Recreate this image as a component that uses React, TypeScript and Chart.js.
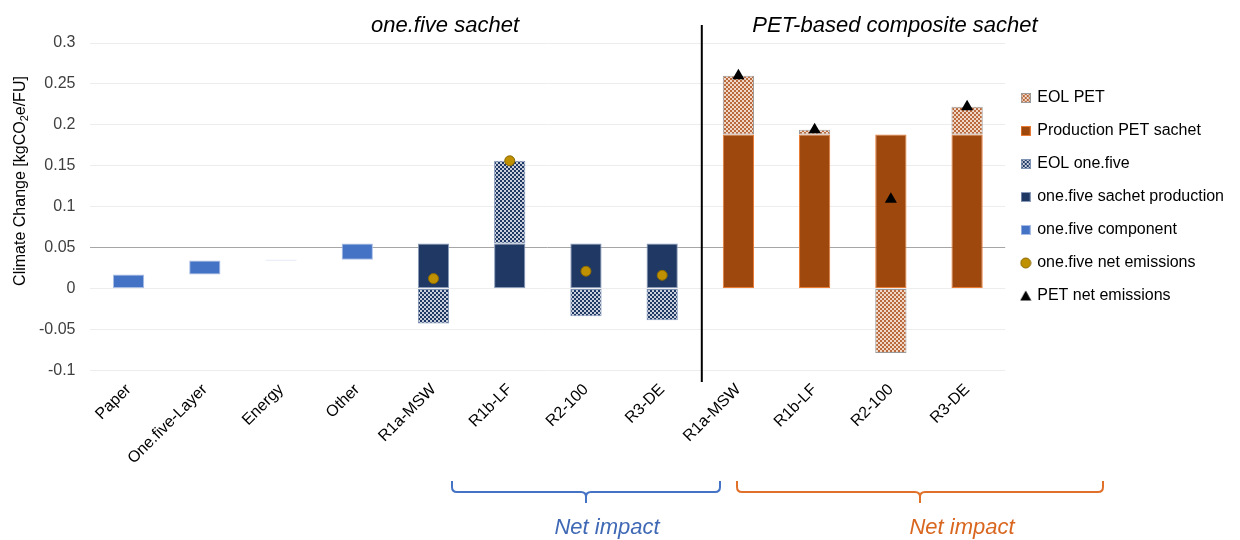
import React, { useEffect, useRef } from 'react';
import { Chart, registerables } from 'chart.js';

Chart.register(...registerables);

// ---------------- data ----------------
const categories = [
  'Paper', 'One.five-Layer', 'Energy', 'Other',
  'R1a-MSW', 'R1b-LF', 'R2-100', 'R3-DE',
  'R1a-MSW', 'R1b-LF', 'R2-100', 'R3-DE',
];

const componentRanges = [
  [0, 0.017], [0.017, 0.034], [0.034, 0.035], [0.035, 0.055],
  null, null, null, null, null, null, null, null,
];
const onefiveProduction = [
  null, null, null, null,
  [0, 0.055], [0, 0.055], [0, 0.055], [0, 0.055],
  null, null, null, null,
];
const onefiveEOL = [
  null, null, null, null,
  [0, -0.043], [0.055, 0.156], [0, -0.034], [0, -0.039],
  null, null, null, null,
];
const onefiveNet = [null, null, null, null, 0.012, 0.156, 0.021, 0.016, null, null, null, null];

const petProduction = [
  null, null, null, null, null, null, null, null,
  [0, 0.188], [0, 0.188], [0, 0.188], [0, 0.188],
];
const petEOL = [
  null, null, null, null, null, null, null, null,
  [0.188, 0.26], [0.188, 0.194], [0, -0.079], [0.188, 0.222],
];
const petNet = [null, null, null, null, null, null, null, null, 0.26, 0.194, 0.109, 0.222];

const yTicks = [-0.1, -0.05, 0, 0.05, 0.1, 0.15, 0.2, 0.25, 0.3];
const axisLine = 0.05;

const seriesNames = [
  'EOL PET',
  'Production PET sachet',
  'EOL one.five',
  'one.five sachet production',
  'one.five component',
  'one.five net emissions',
  'PET net emissions',
];
const groupTitles = ['one.five sachet', 'PET-based composite sachet'];
const braceLabel = 'Net impact';
const yTitleParts = ['Climate Change [kgCO', '2', 'e/FU]'];

const FONT = '"Liberation Sans", Arial, sans-serif';

// ---------------- helpers ----------------
function makeChecker(fg: string, bg: string): CanvasPattern {
  const c = document.createElement('canvas');
  c.width = 4;
  c.height = 4;
  const g = c.getContext('2d')!;
  g.fillStyle = bg;
  g.fillRect(0, 0, 4, 4);
  g.fillStyle = fg;
  g.fillRect(0, 0, 2, 2);
  g.fillRect(2, 2, 2, 2);
  return g.createPattern(c, 'repeat')!;
}

function boxSwatch(fill: string | CanvasPattern, border: string): HTMLCanvasElement {
  const c = document.createElement('canvas');
  c.width = 10;
  c.height = 10;
  const g = c.getContext('2d')!;
  g.fillStyle = fill as any;
  g.fillRect(0, 0, 10, 10);
  g.strokeStyle = border;
  g.lineWidth = 1;
  g.strokeRect(0.5, 0.5, 9, 9);
  return c;
}

function circleSwatch(fill: string, border: string): HTMLCanvasElement {
  const c = document.createElement('canvas');
  c.width = 12;
  c.height = 12;
  const g = c.getContext('2d')!;
  g.beginPath();
  g.arc(6, 6, 5, 0, Math.PI * 2);
  g.fillStyle = fill;
  g.fill();
  g.strokeStyle = border;
  g.lineWidth = 1;
  g.stroke();
  return c;
}

function triangleSwatch(fill: string): HTMLCanvasElement {
  const c = document.createElement('canvas');
  c.width = 12;
  c.height = 12;
  const g = c.getContext('2d')!;
  g.beginPath();
  g.moveTo(6, 0.5);
  g.lineTo(11.5, 10.5);
  g.lineTo(0.5, 10.5);
  g.closePath();
  g.fillStyle = fill;
  g.fill();
  return c;
}

function drawBrace(ctx: CanvasRenderingContext2D, left: number, right: number, tip: number, top: number, mid: number, bottom: number, color: string) {
  const r = 5;
  ctx.beginPath();
  ctx.moveTo(left, top);
  ctx.lineTo(left, mid - r);
  ctx.quadraticCurveTo(left, mid, left + r, mid);
  ctx.lineTo(tip - r, mid);
  ctx.quadraticCurveTo(tip, mid, tip, mid + r);
  ctx.lineTo(tip, bottom);
  ctx.moveTo(tip, mid + r);
  ctx.quadraticCurveTo(tip, mid, tip + r, mid);
  ctx.lineTo(right - r, mid);
  ctx.quadraticCurveTo(right, mid, right, mid - r);
  ctx.lineTo(right, top);
  ctx.strokeStyle = color;
  ctx.lineWidth = 2;
  ctx.stroke();
}

const annotationPlugin = {
  id: 'annotations',
  afterDraw(chart: any) {
    const { ctx, scales } = chart;
    const x = scales.x;
    ctx.save();

    // group titles
    ctx.font = `italic 22px ${FONT}`;
    ctx.fillStyle = '#000';
    ctx.textAlign = 'center';
    ctx.textBaseline = 'alphabetic';
    ctx.fillText(groupTitles[0], 445, 32);
    ctx.fillText(groupTitles[1], 895, 32);

    // divider
    const divX = (x.getPixelForValue(7) + x.getPixelForValue(8)) / 2 + 1.5;
    ctx.beginPath();
    ctx.moveTo(divX, 25);
    ctx.lineTo(divX, 382);
    ctx.strokeStyle = '#000';
    ctx.lineWidth = 2;
    ctx.stroke();

    // y-axis title (with subscript)
    ctx.save();
    ctx.translate(21, 181);
    ctx.rotate(-Math.PI / 2);
    ctx.fillStyle = '#000';
    ctx.textAlign = 'left';
    ctx.textBaseline = 'middle';
    ctx.font = `16px ${FONT}`;
    const w1 = ctx.measureText(yTitleParts[0]).width;
    const w3 = ctx.measureText(yTitleParts[2]).width;
    ctx.font = `11px ${FONT}`;
    const w2 = ctx.measureText(yTitleParts[1]).width;
    const total = w1 + w2 + w3;
    let cx = -total / 2;
    ctx.font = `16px ${FONT}`;
    ctx.fillText(yTitleParts[0], cx, 0);
    cx += w1;
    ctx.font = `11px ${FONT}`;
    ctx.fillText(yTitleParts[1], cx, 4);
    cx += w2;
    ctx.font = `16px ${FONT}`;
    ctx.fillText(yTitleParts[2], cx, 0);
    ctx.restore();

    // braces
    drawBrace(ctx, 452, 720, 586, 481, 492, 503, '#4472C4');
    drawBrace(ctx, 737, 1103, 920, 481, 492, 503, '#E0702A');

    ctx.font = `italic 22px ${FONT}`;
    ctx.textAlign = 'center';
    ctx.textBaseline = 'alphabetic';
    ctx.fillStyle = '#3F68B5';
    ctx.fillText(braceLabel, 607, 534);
    ctx.fillStyle = '#D9661F';
    ctx.fillText(braceLabel, 962, 534);

    ctx.restore();
  },
};

export default function App() {
  const canvasRef = useRef<HTMLCanvasElement | null>(null);

  useEffect(() => {
    document.body.style.margin = '0';
    const canvas = canvasRef.current;
    if (!canvas) return;

    const patPet = makeChecker('#BA6A3C', '#EFD8C8');
    const patOne = makeChecker('#1F3864', '#C9D0DC');

    const colors = {
      eolPet: { fill: patPet, border: '#9A9A9A' },
      prodPet: { fill: '#9E480E', border: '#E97B35' },
      eolOne: { fill: patOne, border: '#7F93B5' },
      prodOne: { fill: '#1F3864', border: '#8A9BBA' },
      comp: { fill: '#4472C4', border: '#A7BDE6' },
      netOne: { fill: '#BF9000', border: '#8C6A00' },
      netPet: { fill: '#000000' },
    };

    const swatches = [
      boxSwatch(colors.eolPet.fill, colors.eolPet.border),
      boxSwatch(colors.prodPet.fill, colors.prodPet.border),
      boxSwatch(colors.eolOne.fill, colors.eolOne.border),
      boxSwatch(colors.prodOne.fill, colors.prodOne.border),
      boxSwatch(colors.comp.fill, colors.comp.border),
      circleSwatch(colors.netOne.fill, colors.netOne.border),
      triangleSwatch(colors.netPet.fill),
    ];

    const barCommon = { borderWidth: 1, borderSkipped: false as const, order: 1 };

    const defaultGenerate = (Chart as any).defaults.plugins.legend.labels.generateLabels;

    const chart = new Chart(canvas, {
      type: 'bar',
      data: {
        labels: categories,
        datasets: [
          { label: seriesNames[0], data: petEOL as any, backgroundColor: colors.eolPet.fill as any, borderColor: colors.eolPet.border, ...barCommon },
          { label: seriesNames[1], data: petProduction as any, backgroundColor: colors.prodPet.fill, borderColor: colors.prodPet.border, ...barCommon },
          { label: seriesNames[2], data: onefiveEOL as any, backgroundColor: colors.eolOne.fill as any, borderColor: colors.eolOne.border, ...barCommon },
          { label: seriesNames[3], data: onefiveProduction as any, backgroundColor: colors.prodOne.fill, borderColor: colors.prodOne.border, ...barCommon },
          { label: seriesNames[4], data: componentRanges as any, backgroundColor: colors.comp.fill, borderColor: colors.comp.border, ...barCommon },
          {
            type: 'line' as const,
            label: seriesNames[5],
            data: onefiveNet as any,
            showLine: false,
            pointStyle: 'circle',
            pointRadius: 5,
            pointBackgroundColor: colors.netOne.fill,
            pointBorderColor: colors.netOne.border,
            pointBorderWidth: 1,
            order: 0,
          } as any,
          {
            type: 'line' as const,
            label: seriesNames[6],
            data: petNet as any,
            showLine: false,
            pointStyle: 'triangle',
            pointRadius: 7,
            pointBackgroundColor: colors.netPet.fill,
            pointBorderColor: colors.netPet.fill,
            pointBorderWidth: 0,
            order: 0,
          } as any,
        ],
      },
      options: {
        responsive: false,
        animation: false,
        events: [],
        layout: { padding: { top: 43, left: 24, right: 6, bottom: 62 } },
        font: { family: FONT, size: 16 } as any,
        datasets: {
          bar: { categoryPercentage: 1, barPercentage: 0.41 },
        } as any,
        scales: {
          x: {
            stacked: true,
            offset: true,
            grid: { display: false, drawTicks: false },
            border: { display: false },
            ticks: {
              minRotation: 45,
              maxRotation: 45,
              autoSkip: false,
              color: '#000',
              padding: 10,
              font: { family: FONT, size: 16 },
            },
          },
          y: {
            min: -0.1,
            max: 0.3,
            afterBuildTicks: (axis: any) => {
              axis.ticks = yTicks.map((v) => ({ value: v }));
            },
            grid: {
              drawTicks: false,
              color: (c: any) => (c.tick && Math.abs(c.tick.value - axisLine) < 1e-9 ? '#A6A6A6' : '#EDEDED'),
              lineWidth: 1,
            },
            border: { display: false },
            ticks: {
              padding: 15,
              color: '#404040',
              font: { family: FONT, size: 16 },
              callback: (v: any) => String(parseFloat(Number(v).toFixed(2))),
            },
          },
        },
        plugins: {
          tooltip: { enabled: false },
          legend: {
            position: 'right',
            align: 'start',
            maxWidth: 235,
            title: { display: true, text: '', padding: { top: 20, bottom: 0 }, font: { size: 10, lineHeight: 1 } },
            labels: {
              usePointStyle: true,
              boxWidth: 7,
              boxHeight: 10,
              padding: 17,
              color: '#000',
              font: { family: FONT, size: 16 },
              sort: (a: any, b: any) => a.datasetIndex - b.datasetIndex,
              generateLabels: (ch: any) =>
                defaultGenerate(ch).map((it: any) => ({ ...it, pointStyle: swatches[it.datasetIndex], rotation: 0 })),
            },
          } as any,
        },
      },
      plugins: [annotationPlugin],
    });

    return () => chart.destroy();
  }, []);

  return (
    <div style={{ width: 1240, height: 540 }}>
      <canvas ref={canvasRef} width={1240} height={540} style={{ display: 'block' }} />
    </div>
  );
}
